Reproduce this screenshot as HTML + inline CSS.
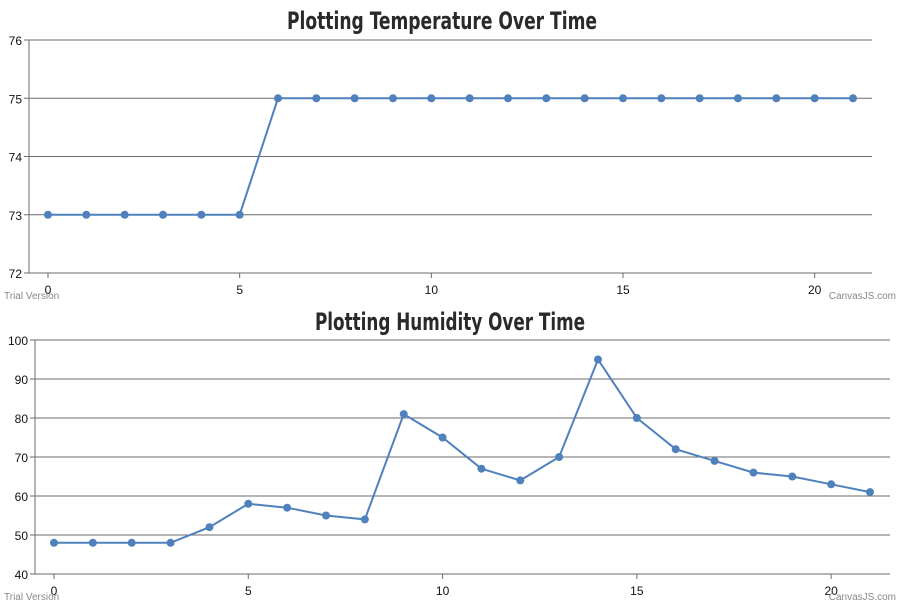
<!DOCTYPE html>
<html><head><meta charset="utf-8"><style>
body{margin:0;background:#fff;width:900px;height:608px;overflow:hidden}
svg{display:block}
text{font-family:"Liberation Sans",sans-serif}
.title{font-family:"DejaVu Sans Condensed","Liberation Sans",sans-serif;font-weight:bold;font-size:24px;fill:#2a2a2a}
</style></head><body>
<svg id="c" width="900" height="608"></svg>
<script>
const timeCats=[0,1,2,3,4,5,6,7,8,9,10,11,12,13,14,15,16,17,18,19,20,21];
const tempValues=[73,73,73,73,73,73,75,75,75,75,75,75,75,75,75,75,75,75,75,75,75,75];
const humValues=[48,48,48,48,52,58,57,55,54,81,75,67,64,70,95,80,72,69,66,65,63,61];
const xTicks=[0,5,10,15,20];
const tempTicks=[72,73,74,75,76];
const humTicks=[40,50,60,70,80,90,100];
const svg=document.getElementById('c');
const NS='http://www.w3.org/2000/svg';
function mk(t,a,p){const e=document.createElementNS(NS,t);for(const k in a)e.setAttribute(k,a[k]);(p||svg).appendChild(e);return e;}
function chart(cfg){
  const g=mk('g',{});
  
  
  const sx=v=>cfg.x0+(v-0)*(cfg.x21-cfg.x0)/21;
  const sy=v=>cfg.yb+(v-cfg.ymin)*(cfg.yt-cfg.yb)/(cfg.ymax-cfg.ymin);
  const t=mk('text',{x:cfg.tx,y:cfg.ty,'text-anchor':'middle',class:'title',textLength:cfg.tw,lengthAdjust:'spacingAndGlyphs'},g);t.textContent=cfg.title;
  
  cfg.yTicks.forEach(v=>{
    const l=mk('line',{x1:cfg.ax-5,x2:cfg.right,y1:sy(v),y2:sy(v),stroke:'#6b6b6b','stroke-width':1},g);
    
    const tx=mk('text',{x:cfg.ax-7,y:sy(v)+5,'text-anchor':'end','font-size':'12px',fill:'#111'},g);tx.textContent=v;
    
  });
  const ya=mk('line',{x1:cfg.ax,x2:cfg.ax,y1:cfg.yt,y2:cfg.yb,stroke:'#6b6b6b'},g);
  
  xTicks.forEach(v=>{
    mk('line',{x1:sx(v),x2:sx(v),y1:cfg.yb,y2:cfg.yb+5,stroke:'#6b6b6b'},g);
    const tx=mk('text',{x:sx(v),y:cfg.yb+21,'text-anchor':'middle','font-size':'12px',fill:'#111'},g);tx.textContent=v;
    
  });
  const pts=cfg.vals.map((v,i)=>sx(timeCats[i])+','+sy(v)).join(' ');
  const pl=mk('polyline',{points:pts,fill:'none',stroke:'#4f81bc','stroke-width':2},g);
  
  cfg.vals.forEach((v,i)=>{
    const c=mk('circle',{cx:sx(timeCats[i]),cy:sy(v),r:4,fill:'#4f81bc'},g);
    
  });
  const tv=mk('text',{x:4,y:cfg.yb+26,'font-size':'10px',fill:'#888'},g);tv.textContent='Trial Version';
  
  const cj=mk('text',{x:896,y:cfg.yb+26,'text-anchor':'end','font-size':'10px',fill:'#888'},g);cj.textContent='CanvasJS.com';
  
}
chart({name:'temperature-chart',title:'Plotting Temperature Over Time',tx:442,ty:29,tw:310,vals:tempValues,yTicks:tempTicks,ymin:72,ymax:76,yt:40,yb:273,ax:29,right:872,x0:48,x21:853});
chart({name:'humidity-chart',title:'Plotting Humidity Over Time',tx:450,ty:330,tw:270,vals:humValues,yTicks:humTicks,ymin:40,ymax:100,yt:340,yb:574,ax:35,right:890,x0:54,x21:870});
</script>
</body></html>
